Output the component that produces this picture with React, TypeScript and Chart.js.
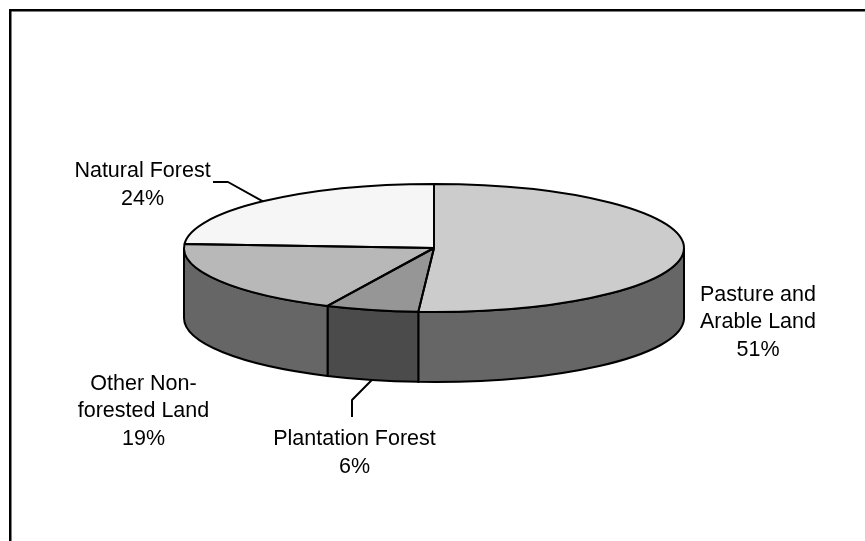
import React, { useEffect, useRef } from "react";
import { Chart, registerables } from "chart.js";

Chart.register(...registerables);

const categories = ["Pasture and Arable Land", "Plantation Forest", "Other Non-forested Land", "Natural Forest"];
const shares = [51, 6, 19, 24];
const topColors = ["#cccccc", "#969696", "#b8b8b8", "#f6f6f6"];
const wallColors = ["#666666", "#4b4b4b", "#666666", "#7b7b7b"];
const labelLines = [
  ["Pasture and", "Arable Land", "51%"],
  ["Plantation Forest", "6%"],
  ["Other Non-", "forested Land", "19%"],
  ["Natural Forest", "24%"],
];

const FONT = '21.5px "Liberation Sans", Arial, sans-serif';
const RX = 250;
const RY = 64;
const DEPTH = 70;
const LINE = 27.5;

const pie3d = {
  id: "pie3d",
  beforeDatasetsDraw(chart: any) {
    const ctx = chart.ctx;
    const arcs = chart.getDatasetMeta(0).data;
    const cx = arcs[0].x;
    const cy = arcs[0].y;
    const R = arcs[0].outerRadius;

    ctx.save();
    ctx.strokeStyle = "#000";
    ctx.lineWidth = 2.5;
    ctx.beginPath();
    ctx.moveTo(10.25, 541);
    ctx.lineTo(10.25, 10.25);
    ctx.lineTo(865, 10.25);
    ctx.stroke();

    ctx.lineWidth = 2;
    arcs.forEach((arc: any, i: number) => {
      const a0 = Math.max(arc.startAngle, 0);
      const a1 = Math.min(arc.endAngle, Math.PI);
      const bands = [[a0, a1]];
      const wrap = [arc.startAngle - 2 * Math.PI, arc.endAngle - 2 * Math.PI];
      if (wrap[1] > 0) bands.push([Math.max(wrap[0], 0), Math.min(wrap[1], Math.PI)]);
      bands.forEach(([s, e]) => {
        if (e <= s) return;
        ctx.beginPath();
        ctx.ellipse(cx, cy, RX, RY, 0, s, e);
        ctx.lineTo(cx + RX * Math.cos(e), cy + RY * Math.sin(e) + DEPTH);
        ctx.ellipse(cx, cy + DEPTH, RX, RY, 0, e, s, true);
        ctx.closePath();
        ctx.fillStyle = wallColors[i];
        ctx.fill();
        ctx.stroke();
      });
    });
    ctx.restore();

    ctx.save();
    ctx.translate(cx, cy);
    ctx.scale(RX / R, RY / R);
    ctx.translate(-cx, -cy);
  },
  afterDatasetsDraw(chart: any) {
    const ctx = chart.ctx;
    ctx.restore();
    const arcs = chart.getDatasetMeta(0).data;
    const cx = arcs[0].x;
    const cy = arcs[0].y;

    ctx.save();
    ctx.strokeStyle = "#000";
    ctx.lineWidth = 2;
    ctx.lineJoin = "bevel";
    arcs.forEach((arc: any) => {
      ctx.beginPath();
      ctx.moveTo(cx, cy);
      ctx.ellipse(cx, cy, RX, RY, 0, arc.startAngle, arc.endAngle);
      ctx.closePath();
      ctx.stroke();
    });

    const mid = (i: number) => (arcs[i].startAngle + arcs[i].endAngle) / 2;
    const at = (a: number, dy = 0) => [cx + RX * Math.cos(a), cy + RY * Math.sin(a) + dy];

    const [nx, ny] = at(mid(3));
    ctx.beginPath();
    ctx.moveTo(nx, ny);
    ctx.lineTo(228, 182);
    ctx.lineTo(213, 182);
    ctx.stroke();

    const [px, py] = at(mid(1), DEPTH);
    ctx.beginPath();
    ctx.moveTo(px, py);
    ctx.lineTo(352, 400);
    ctx.lineTo(352, 417);
    ctx.stroke();

    ctx.fillStyle = "#000";
    ctx.font = FONT;
    ctx.textAlign = "center";
    ctx.textBaseline = "alphabetic";
    const anchors = [
      [758, 300.5],
      [354.5, 445],
      [143.5, 389.5],
      [142.5, 177],
    ];
    labelLines.forEach((lines, i) => {
      lines.forEach((t, j) => ctx.fillText(t, anchors[i][0], anchors[i][1] + j * LINE));
    });
    ctx.restore();
  },
};

export default function App() {
  const ref = useRef<HTMLCanvasElement | null>(null);
  useEffect(() => {
    const chart = new Chart(ref.current as HTMLCanvasElement, {
      type: "pie",
      data: {
        labels: categories,
        datasets: [{ data: shares, backgroundColor: topColors, borderWidth: 0 }],
      },
      options: {
        animation: false,
        responsive: false,
        layout: { padding: { left: 186, right: 183, top: 0, bottom: 45 } },
        plugins: { legend: { display: false }, tooltip: { enabled: false } },
      },
      plugins: [pie3d],
    } as any);
    return () => chart.destroy();
  }, []);
  return (
    <canvas
      ref={ref}
      width={865}
      height={541}
      style={{ position: "absolute", left: 0, top: 0, width: 865, height: 541, background: "#fff" }}
    />
  );
}
